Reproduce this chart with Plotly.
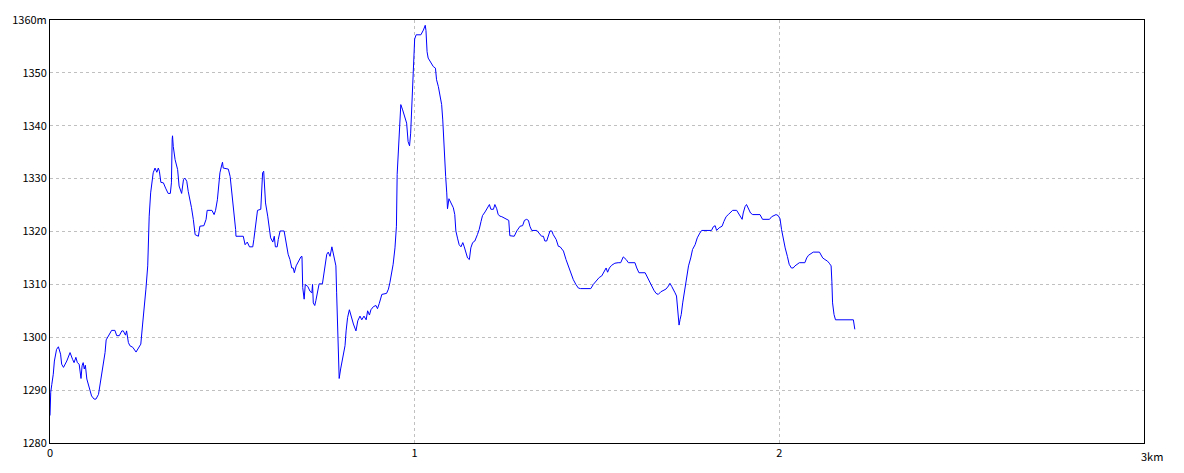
import plotly.graph_objects as go

distance_km = [
    0.000, 0.002, 0.005, 0.009, 0.012, 0.018, 0.023, 0.026, 0.029, 0.032, 0.037, 0.046, 0.055, 0.062, 0.066,
    0.071, 0.075, 0.080, 0.085, 0.088, 0.091, 0.094, 0.097, 0.101, 0.108, 0.114, 0.121, 0.126, 0.133, 0.140,
    0.146, 0.151, 0.154, 0.165, 0.169, 0.178, 0.183, 0.190, 0.197, 0.201, 0.207, 0.210, 0.215, 0.219, 0.227,
    0.236, 0.245, 0.249, 0.254, 0.259, 0.263, 0.268, 0.272, 0.276, 0.280, 0.283, 0.288, 0.293, 0.297, 0.300,
    0.304, 0.311, 0.317, 0.324, 0.330, 0.333, 0.335, 0.336, 0.338, 0.343, 0.350, 0.354, 0.361, 0.366, 0.370,
    0.375, 0.379, 0.384, 0.388, 0.393, 0.398, 0.407, 0.411, 0.422, 0.428, 0.431, 0.444, 0.450, 0.454, 0.459,
    0.463, 0.466, 0.471, 0.473, 0.475, 0.489, 0.494, 0.500, 0.505, 0.509, 0.510, 0.530, 0.535, 0.541, 0.547,
    0.556, 0.559, 0.565, 0.569, 0.578, 0.580, 0.583, 0.586, 0.588, 0.591, 0.597, 0.601, 0.605, 0.611, 0.615,
    0.618, 0.623, 0.626, 0.631, 0.642, 0.647, 0.653, 0.658, 0.663, 0.667, 0.670, 0.675, 0.681, 0.688, 0.691,
    0.693, 0.697, 0.700, 0.707, 0.713, 0.718, 0.720, 0.722, 0.726, 0.729, 0.734, 0.738, 0.747, 0.750, 0.754,
    0.759, 0.763, 0.768, 0.773, 0.779, 0.784, 0.786, 0.789, 0.791, 0.793, 0.797, 0.803, 0.809, 0.812, 0.816,
    0.821, 0.825, 0.832, 0.839, 0.844, 0.850, 0.855, 0.861, 0.867, 0.871, 0.876, 0.880, 0.887, 0.894, 0.898,
    0.903, 0.910, 0.923, 0.928, 0.932, 0.937, 0.941, 0.946, 0.950, 0.952, 0.956, 0.958, 0.962, 0.967, 0.973,
    0.978, 0.982, 0.986, 0.989, 0.992, 0.995, 0.997, 1.000, 1.004, 1.017, 1.024, 1.029, 1.031, 1.034, 1.037,
    1.047, 1.051, 1.057, 1.060, 1.065, 1.069, 1.074, 1.077, 1.080, 1.082, 1.085, 1.088, 1.090, 1.094, 1.099,
    1.106, 1.110, 1.113, 1.118, 1.122, 1.127, 1.132, 1.136, 1.141, 1.145, 1.150, 1.154, 1.159, 1.165, 1.172,
    1.177, 1.182, 1.186, 1.193, 1.199, 1.205, 1.209, 1.216, 1.220, 1.225, 1.229, 1.234, 1.239, 1.245, 1.252,
    1.258, 1.261, 1.268, 1.273, 1.280, 1.284, 1.289, 1.296, 1.301, 1.307, 1.312, 1.316, 1.321, 1.335, 1.342,
    1.348, 1.353, 1.357, 1.362, 1.367, 1.371, 1.376, 1.380, 1.388, 1.394, 1.399, 1.408, 1.415, 1.421, 1.428,
    1.435, 1.442, 1.449, 1.455, 1.483, 1.490, 1.499, 1.506, 1.513, 1.519, 1.525, 1.529, 1.534, 1.540, 1.549,
    1.558, 1.565, 1.572, 1.580, 1.586, 1.604, 1.609, 1.615, 1.632, 1.638, 1.644, 1.650, 1.656, 1.662, 1.668,
    1.675, 1.682, 1.689, 1.696, 1.700, 1.705, 1.709, 1.714, 1.718, 1.722, 1.725, 1.728, 1.731, 1.735, 1.739,
    1.743, 1.747, 1.751, 1.757, 1.762, 1.769, 1.775, 1.782, 1.787, 1.814, 1.819, 1.824, 1.828, 1.835, 1.843,
    1.848, 1.854, 1.860, 1.867, 1.872, 1.883, 1.890, 1.898, 1.901, 1.906, 1.910, 1.916, 1.921, 1.927, 1.947,
    1.954, 1.973, 1.979, 1.985, 1.991, 1.997, 2.002, 2.006, 2.011, 2.016, 2.022, 2.027, 2.033, 2.038, 2.043,
    2.049, 2.055, 2.070, 2.075, 2.080, 2.086, 2.093, 2.110, 2.113, 2.119, 2.125, 2.132, 2.137, 2.142, 2.144,
    2.146, 2.150, 2.154, 2.203, 2.205, 2.207,
]

elevation_m = [
    1285.2, 1289.6, 1291.1, 1293.0, 1295.5, 1297.7, 1298.2, 1297.4, 1296.8, 1294.9, 1294.3, 1295.5, 1297.1, 1295.8, 1295.2,
    1296.2, 1295.2, 1294.9, 1292.2, 1294.6, 1295.2, 1294.0, 1294.7, 1292.1, 1290.5, 1288.9, 1288.3, 1288.3, 1289.2, 1292.1,
    1294.7, 1297.1, 1299.5, 1300.9, 1301.3, 1301.3, 1300.3, 1300.3, 1301.2, 1301.2, 1300.4, 1301.2, 1299.0, 1298.4, 1298.1,
    1297.2, 1298.4, 1298.7, 1302.5, 1305.6, 1309.1, 1313.5, 1322.9, 1327.3, 1329.5, 1331.1, 1332.0, 1331.2, 1332.0, 1331.4,
    1329.3, 1329.2, 1328.2, 1327.2, 1327.2, 1329.2, 1337.4, 1338.1, 1336.1, 1333.6, 1331.7, 1328.6, 1327.2, 1329.8, 1330.1,
    1329.5, 1327.6, 1326.0, 1324.5, 1322.3, 1319.4, 1319.1, 1321.0, 1321.1, 1322.3, 1324.0, 1324.0, 1323.2, 1324.0, 1326.0,
    1328.6, 1331.1, 1332.6, 1333.1, 1332.0, 1331.8, 1330.4, 1326.7, 1322.9, 1320.4, 1319.1, 1319.1, 1317.5, 1318.0, 1317.1,
    1317.1, 1318.5, 1321.9, 1324.0, 1324.2, 1328.6, 1331.1, 1331.4, 1328.6, 1325.4, 1322.9, 1321.0, 1318.8, 1318.0, 1319.1,
    1317.1, 1317.1, 1318.5, 1320.1, 1320.1, 1317.9, 1315.7, 1314.7, 1313.1, 1313.1, 1312.2, 1313.5, 1314.4, 1315.2, 1315.3,
    1309.4, 1307.2, 1310.0, 1309.6, 1308.7, 1308.4, 1310.0, 1306.5, 1306.0, 1306.9, 1309.1, 1310.1, 1310.1, 1311.6, 1314.1,
    1315.7, 1316.1, 1315.3, 1317.1, 1315.3, 1313.5, 1308.4, 1299.0, 1292.7, 1292.2, 1294.0, 1296.2, 1298.4, 1301.2, 1303.7,
    1305.2, 1304.0, 1302.5, 1301.2, 1303.1, 1304.0, 1303.3, 1304.0, 1303.3, 1305.0, 1304.2, 1305.2, 1305.8, 1306.0, 1305.4,
    1306.4, 1308.1, 1308.3, 1309.1, 1310.3, 1312.2, 1313.8, 1316.9, 1321.0, 1330.8, 1335.2, 1339.2, 1344.0, 1343.0, 1341.8,
    1340.5, 1337.0, 1336.2, 1338.6, 1343.0, 1347.1, 1352.5, 1356.4, 1357.2, 1357.2, 1358.1, 1359.0, 1358.0, 1354.0, 1352.8,
    1351.8, 1351.2, 1350.9, 1348.7, 1347.4, 1345.8, 1344.0, 1341.1, 1336.7, 1333.0, 1330.4, 1327.3, 1324.3, 1326.2, 1325.4,
    1324.5, 1323.2, 1320.1, 1318.6, 1317.5, 1317.1, 1317.9, 1317.1, 1315.7, 1315.0, 1314.7, 1316.9, 1317.9, 1318.2, 1319.4,
    1320.4, 1321.9, 1323.0, 1323.7, 1324.5, 1325.1, 1324.2, 1324.2, 1325.1, 1324.3, 1323.2, 1322.9, 1322.8, 1322.6, 1322.3,
    1322.1, 1319.2, 1319.1, 1319.1, 1320.1, 1320.5, 1321.0, 1321.1, 1322.1, 1322.3, 1322.1, 1321.0, 1320.2, 1320.2, 1319.7,
    1319.1, 1319.1, 1318.2, 1318.2, 1319.2, 1320.1, 1320.1, 1319.4, 1318.5, 1317.2, 1317.1, 1316.3, 1314.7, 1313.5, 1312.2,
    1310.9, 1310.0, 1309.3, 1309.2, 1309.2, 1310.0, 1310.8, 1311.3, 1311.6, 1312.5, 1313.1, 1312.3, 1313.1, 1313.6, 1314.0,
    1314.1, 1314.1, 1315.2, 1314.7, 1314.1, 1314.1, 1313.1, 1312.2, 1312.2, 1311.3, 1310.4, 1309.7, 1308.9, 1308.3, 1308.1,
    1308.6, 1308.9, 1309.1, 1309.7, 1310.2, 1309.6, 1308.9, 1308.4, 1307.8, 1304.7, 1302.3, 1303.4, 1304.3, 1306.5, 1308.1,
    1310.3, 1311.9, 1313.5, 1315.0, 1316.6, 1317.5, 1318.8, 1319.7, 1320.2, 1320.2, 1320.9, 1321.1, 1320.2, 1320.7, 1321.0,
    1321.9, 1322.8, 1323.2, 1323.6, 1324.0, 1324.0, 1323.2, 1322.3, 1323.5, 1324.7, 1325.1, 1324.3, 1323.5, 1323.2, 1323.2,
    1322.3, 1322.3, 1322.8, 1323.0, 1323.2, 1323.0, 1322.4, 1320.4, 1318.5, 1316.9, 1315.3, 1313.8, 1313.1, 1313.1, 1313.5,
    1313.8, 1314.1, 1314.1, 1315.0, 1315.5, 1315.8, 1316.1, 1316.1, 1315.7, 1315.0, 1314.7, 1314.4, 1314.0, 1313.5, 1310.6,
    1306.5, 1304.3, 1303.3, 1303.3, 1302.1, 1301.5,
]

x_tick_vals = [0, 1, 2]
x_tick_text = ["0", "1", "2"]
x_end_label = "3km"
y_tick_vals = [1280, 1290, 1300, 1310, 1320, 1330, 1340, 1350, 1360]
y_tick_text = ["1280", "1290", "1300", "1310", "1320", "1330", "1340", "1350", "1360m"]

FONT = "Noto Sans CJK JP"

fig = go.Figure()
fig.add_trace(go.Scatter(
    x=distance_km, y=elevation_m, mode="lines",
    line=dict(color="#0000FF", width=1),
    hoverinfo="skip", showlegend=False,
))

# page body has an 8px default margin, so the figure is sized to fit the window
fig.update_layout(
    width=1176, height=465,
    margin=dict(l=42, r=40, t=12, b=30),
    paper_bgcolor="white", plot_bgcolor="white",
    font=dict(family=FONT, size=11, color="black"),
    xaxis=dict(
        range=[0, 3], tickvals=x_tick_vals, ticktext=x_tick_text,
        showgrid=True, gridcolor="#C0C0C0", griddash="3px,3px", gridwidth=1,
        showline=True, linecolor="black", linewidth=1, mirror=True,
        zeroline=False, ticks="", fixedrange=True, automargin=False,
    ),
    yaxis=dict(
        range=[1280, 1360], tickvals=y_tick_vals, ticktext=y_tick_text,
        showgrid=True, gridcolor="#C0C0C0", griddash="3px,3px", gridwidth=1,
        showline=True, linecolor="black", linewidth=1, mirror=True,
        zeroline=False, ticks="", fixedrange=True, automargin=False,
    ),
    annotations=[dict(
        x=3, y=0, xref="x", yref="paper", text=x_end_label, showarrow=False,
        xanchor="left", yanchor="top", xshift=-5, yshift=-3,
        font=dict(family=FONT, size=11, color="black"),
    )],
)

fig.write_html("out.html")
